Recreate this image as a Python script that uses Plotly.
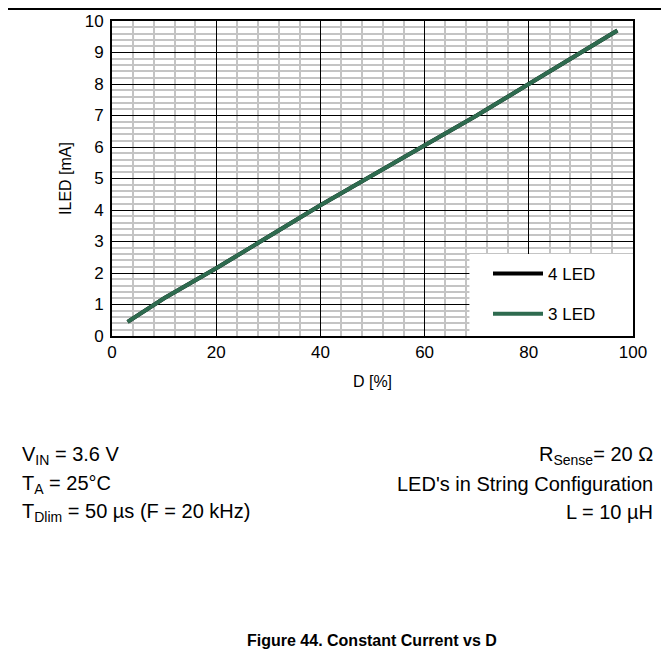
import plotly.graph_objects as go

# duty cycle D [%] and LED current [mA]
duty = [3, 10, 20, 30, 40, 50, 60, 70, 80, 90, 97]
iled_4led = [0.45, 1.2, 2.15, 3.15, 4.15, 5.1, 6.05, 7.0, 8.0, 9.0, 9.7]
iled_3led = [0.45, 1.2, 2.15, 3.15, 4.15, 5.1, 6.05, 7.0, 8.0, 9.0, 9.7]

# the page body adds an 8px margin, so the figure is sized and placed to fit
OFF = 8
W, H = 669 - OFF, 668 - OFF
FONT = "Liberation Sans, Arial, sans-serif"


def px_x(p):
    # page pixel -> paper x
    return (p - OFF) / W


def px_y(p):
    # page pixel -> paper y
    return 1 - (p - OFF) / H


fig = go.Figure()
fig.add_trace(go.Scatter(x=duty, y=iled_4led, mode="lines", name="4 LED",
                         legendgroup="a", line=dict(color="black", width=4)))
fig.add_trace(go.Scatter(x=duty, y=iled_3led, mode="lines", name="3 LED",
                         legendgroup="b", line=dict(color="#2e6b4f", width=4)))

axis_common = dict(
    showline=True, linecolor="black", linewidth=2, mirror=True,
    showgrid=True, gridcolor="black", gridwidth=1,
    ticks="", zeroline=False, automargin=False,
    tickfont=dict(family=FONT, size=17, color="black"),
)

fig.update_xaxes(
    range=[0, 100], dtick=20, domain=[px_x(112), px_x(633)],
    minor=dict(dtick=4, showgrid=True, gridcolor="#c4c4c4", gridwidth=2),
    ticklabelstandoff=0,
    title=dict(text="D [%]", font=dict(family=FONT, size=16, color="black"), standoff=14),
    **axis_common,
)
fig.update_yaxes(
    range=[0, 10], dtick=1, domain=[px_y(336), px_y(21)],
    minor=dict(dtick=0.2, showgrid=True, gridcolor="#c4c4c4", gridwidth=2),
    ticklabelstandoff=3,
    title=dict(text="ILED [mA]", font=dict(family=FONT, size=16, color="black"), standoff=9),
    **axis_common,
)

shapes = [
    # white box behind the legend, covering the grid
    dict(type="rect", xref="x", yref="y", layer="between",
         x0=68.6, x1=100, y0=0, y1=2.6,
         fillcolor="white", line=dict(width=0)),
    # page frame: top and right edges
    dict(type="line", xref="paper", yref="paper",
         x0=0, x1=px_x(663), y0=px_y(9), y1=px_y(9),
         line=dict(color="black", width=2)),
    dict(type="line", xref="paper", yref="paper",
         x0=px_x(663), x1=px_x(663), y0=px_y(9), y1=0,
         line=dict(color="black", width=2)),
]

notes_left = ["V<sub>IN</sub> = 3.6 V", "T<sub>A</sub> = 25°C",
              "T<sub>Dlim</sub> = 50 µs (F = 20 kHz)"]
notes_right = ["R<sub>Sense</sub>= 20 Ω", "LED's in String Configuration",
               "L = 10 µH"]
rows_y = [455, 484, 512]

annotations = []
for txt, yy in zip(notes_left, rows_y):
    annotations.append(dict(text=txt, xref="paper", yref="paper", x=px_x(20), y=px_y(yy),
                            xanchor="left", yanchor="middle", showarrow=False,
                            font=dict(family=FONT, size=20, color="black")))
for txt, yy in zip(notes_right, rows_y):
    annotations.append(dict(text=txt, xref="paper", yref="paper", x=px_x(655), y=px_y(yy),
                            xanchor="right", yanchor="middle", showarrow=False,
                            font=dict(family=FONT, size=20, color="black")))
annotations.append(dict(text="<b>Figure 44. Constant Current vs D</b>", xref="paper", yref="paper",
                        x=px_x(372), y=px_y(640), xanchor="center", yanchor="middle",
                        showarrow=False, font=dict(family=FONT, size=16, color="black")))

fig.update_layout(
    width=W, height=H,
    margin=dict(l=0, r=0, t=0, b=0),
    paper_bgcolor="white", plot_bgcolor="white",
    font=dict(family=FONT, color="black"),
    showlegend=True,
    legend=dict(x=px_x(488), y=px_y(256), xanchor="left", yanchor="top",
                bgcolor="rgba(0,0,0,0)", borderwidth=0,
                traceorder="grouped", tracegroupgap=15, itemwidth=50,
                font=dict(family=FONT, size=17, color="black")),
    shapes=shapes,
    annotations=annotations,
)

fig.write_html("out.html")
